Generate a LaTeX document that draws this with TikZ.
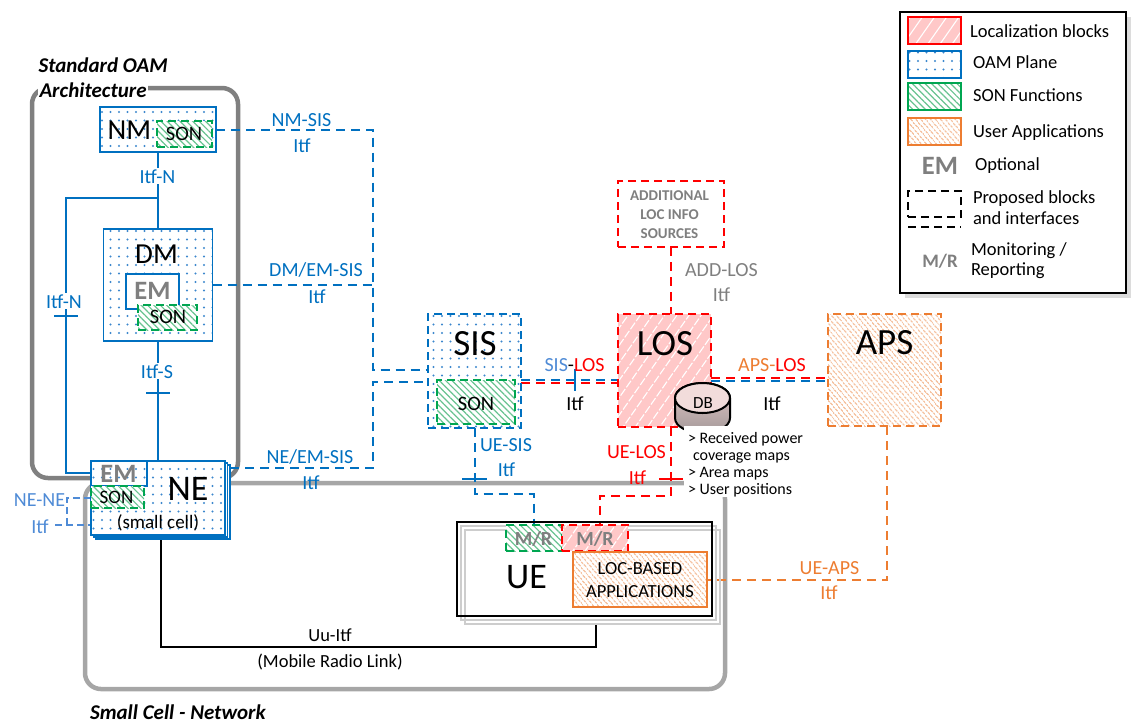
\documentclass[tikz,border=0pt]{standalone}
\usepackage{fontspec}
\setmainfont{Carlito}
\usetikzlibrary{patterns.meta,calc}
\pgfdeclarelayer{frames}
\pgfdeclarelayer{links}
\pgfsetlayers{frames,links,main}

\definecolor{oamblue}{RGB}{0,112,192}
\definecolor{softblue}{RGB}{79,139,214}
\definecolor{songreen}{RGB}{0,166,81}
\definecolor{locred}{RGB}{255,0,0}
\definecolor{apporange}{RGB}{237,125,49}
\definecolor{optgray}{RGB}{127,127,127}
\definecolor{locpink}{RGB}{255,200,200}
\definecolor{oamframe}{RGB}{128,128,128}
\definecolor{netframe}{RGB}{166,166,166}
\definecolor{dotblue}{RGB}{60,135,205}
\definecolor{hatchgreen}{RGB}{105,195,145}
\definecolor{hatchorange}{RGB}{241,165,115}
\definecolor{dbtop}{RGB}{242,220,219}
\definecolor{dbbody}{RGB}{226,196,196}
\definecolor{dbshade}{RGB}{165,155,155}
\definecolor{shadowgray}{RGB}{205,205,205}

\newcommand{\fsz}[1]{\fontsize{#1}{#1}\selectfont}

\tikzset{
  every node/.style={inner sep=0pt, outer sep=0pt},
  oamfill/.style={preaction={fill=white}, pattern={Dots[distance=8.5pt,radius=1.05pt]}, pattern color=dotblue},
  sonfill/.style={preaction={fill=white}, pattern={Lines[angle=-45,distance=4.5pt,line width=1.2pt]}, pattern color=hatchgreen},
  locfill/.style={preaction={fill=locpink}, pattern={Lines[angle=55,distance=10pt,line width=1.1pt]}, pattern color=white},
  appfill/.style={preaction={fill=white}, pattern={Lines[angle=-50,distance=4pt,line width=1.1pt]}, pattern color=hatchorange},
  propdash/.style={dash pattern=on 8pt off 5pt},
  oambox/.style={draw=oamblue, line width=1.8pt, oamfill},
  sisbox/.style={oambox, propdash},
  sonbox/.style={draw=songreen, line width=1.8pt, propdash, sonfill},
  locbox/.style={draw=locred, line width=1.8pt, propdash, locfill},
  apsbox/.style={draw=apporange, line width=1.8pt, propdash, appfill},
  appbox/.style={draw=apporange, line width=1.8pt, appfill},
  oamlink/.style={draw=oamblue, line width=2pt},
  plink/.style={oamlink, dash pattern=on 9pt off 6pt},
  rlink/.style={draw=locred, line width=2pt, dash pattern=on 9pt off 6pt},
  olink/.style={draw=apporange, line width=2pt, dash pattern=on 9pt off 6pt},
  nenelink/.style={draw=softblue, line width=1.7pt, dash pattern=on 7pt off 4pt},
  lbl/.style={font=\fsz{20}, text=oamblue, anchor=base},
  bigtxt/.style={font=\fsz{37}, anchor=base},
  midtxt/.style={font=\fsz{29}, anchor=base},
  sontxt/.style={font=\fsz{20.5}, anchor=base},
  opttxt/.style={font=\bfseries\fsz{26.5}, text=optgray, anchor=base},
  mrtxt/.style={font=\bfseries\fsz{20}, text=optgray, anchor=base},
  legtxt/.style={font=\fsz{18.5}, anchor=base west},
  dbtxt/.style={font=\fsz{16}, anchor=base west},
  frametitle/.style={font=\bfseries\itshape\fsz{21}, anchor=base west},
}

\begin{document}
\begin{tikzpicture}[x=1pt,y=-1pt]
\useasboundingbox (0,0) rectangle (1131,724);

% ---------- blocks ----------
% Network manager
\node[oambox, minimum width=116, minimum height=45] (nm) at (158,129.5) {};
\node[sonbox, minimum width=55, minimum height=26] (nmson) at (184.5,134) {};
\node[midtxt] (nmt) at (129.5,139) {NM};
\node[sontxt] (nmsont) at (184,140) {SON};

% Domain manager
\node[oambox, minimum width=109, minimum height=112] (dm) at (158,285) {};
\node[midtxt] (dmt) at (156.5,263) {DM};
\node[draw=oamblue, line width=1.8pt, fill=white, minimum width=53, minimum height=35] (dmem) at (152.5,291.5) {};
\node[opttxt] (dmemt) at (152.5,299) {EM};
\node[sonbox, minimum width=59, minimum height=25] (dmson) at (167.5,317.5) {};
\node[sontxt] (dmsont) at (168,323) {SON};

% Network element (stacked small cells)
\node[draw=oamblue, line width=1.3pt, fill=white, minimum width=134, minimum height=74] (nesh2) at (163,502) {};
\node[draw=oamblue, line width=1.3pt, fill=white, minimum width=134, minimum height=74] (nesh1) at (160.5,500) {};
\node[oambox, minimum width=134, minimum height=74] (ne) at (158,498) {};
\node[oambox, minimum width=56, minimum height=25] (neem) at (119,473.5) {};
\node[opttxt] (neemt) at (118.5,482) {EM};
\node[sonbox, minimum width=53, minimum height=22] (neson) at (117.5,497) {};
\node[font=\fsz{19}, anchor=base] (nesont) at (116.5,503) {SON};
\node[bigtxt, font=\fsz{36}] (net) at (188,500) {NE};
\node[font=\fsz{19}] (nesc) at (158,523) {(small cell)};

% SIS
\node[sisbox, minimum width=93, minimum height=114] (sis) at (474.5,371) {};
\node[bigtxt] (sist) at (475,355) {SIS};
\node[sonbox, minimum width=78, minimum height=44] (sisson) at (476,402) {};
\node[sontxt] (sissont) at (476,410) {SON};

% LOS
\node[locbox, minimum width=93, minimum height=113] (los) at (664.5,370.5) {};
\node[bigtxt] (lost) at (665,355) {LOS};

% APS
\node[apsbox, minimum width=113, minimum height=112] (aps) at (884.5,370) {};
\node[bigtxt] (apst) at (884.5,354) {APS};

% Additional sources
\node[draw=locred, line width=1.8pt, propdash, fill=white, minimum width=106, minimum height=66] (add) at (671,214) {};
\node[font=\bfseries\fsz{15}, text=optgray, anchor=base] (add1) at (669.5,200) {ADDITIONAL};
\node[font=\bfseries\fsz{15}, text=optgray, anchor=base] (add2) at (669.5,219) {LOC INFO};
\node[font=\bfseries\fsz{15}, text=optgray, anchor=base] (add3) at (669.5,238) {SOURCES};

% UE (stacked terminals)
\node[draw=shadowgray, line width=1.3pt, minimum width=255, minimum height=94] (uesh2) at (592.5,577) {};
\node[draw=shadowgray, line width=1.3pt, minimum width=255, minimum height=94] (uesh1) at (588.5,573) {};
\node[draw=black, line width=1.8pt, minimum width=255, minimum height=94] (ue) at (584.5,569) {};
\node[bigtxt, font=\fsz{36}] (uet) at (526.5,588) {UE};
\node[sonbox, minimum width=56, minimum height=26] (mrg) at (534,538) {};
\node[mrtxt] (mrgt) at (533.5,545) {M/R};
\node[locbox, minimum width=66, minimum height=26] (mrr) at (595,538) {};
\node[mrtxt] (mrrt) at (595,545) {M/R};
\node[appbox, minimum width=134, minimum height=55] (app) at (640,579.5) {};
\node[font=\fsz{18.5}, anchor=base] (app1) at (640,574) {LOC-BASED};
\node[font=\fsz{18.5}, anchor=base] (app2) at (640,597) {APPLICATIONS};

% Database
\path[draw=black, line width=2pt, top color=dbbody, bottom color=dbshade]
  (675,398) -- (675,418) arc[start angle=180, end angle=0, x radius=27.5, y radius=15]
  -- (730,398) arc[start angle=0, end angle=-180, x radius=27.5, y radius=15] -- cycle;
\path[draw=black, line width=2pt, fill=dbtop] (702.5,398) ellipse [x radius=27.5, y radius=15];
\node[font=\fsz{17}, anchor=base] (db) at (703,408) {DB};
\fill[white] (684,426) rectangle (812,497);
\node[dbtxt] (db1) at (688,443) {> Received power};
\node[dbtxt] (db2) at (693,460) {coverage maps};
\node[dbtxt] (db3) at (688,477) {> Area maps};
\node[dbtxt] (db4) at (688,494) {> User positions};

% ---------- coordinates for the interface routes ----------
\coordinate (jn) at (158,198);
\coordinate (nl) at (66,473);
\coordinate (busA) at (373,370);
\coordinate (busB) at (373,382);
\coordinate (neR) at ($(ne.north east)+(5,7)$);
\coordinate (nn1) at (67,498);
\coordinate (nn2) at (67,525);
\coordinate (nn3) at (55,525);
\coordinate (slB) at (0,380);
\coordinate (slR) at (0,383);
\coordinate (alR) at (0,378);
\coordinate (alB) at (0,381);
\coordinate (us) at (534,494);
\coordinate (lu) at (600,496);
\coordinate (ua) at (887,579.5);
\coordinate (uu1) at (161,647);
\coordinate (uu2) at (596,647);

% ---------- frames ----------
\begin{pgfonlayer}{frames}
\draw[oamframe, line width=4.5pt, rounded corners=16pt] (32,88) rectangle (238,478);
\draw[netframe, line width=4.5pt, rounded corners=16pt] (85,483) rectangle (725,689);
\end{pgfonlayer}
\node[frametitle, fill=white, inner sep=1.5pt] (oamtitle1) at (37,72) {Standard OAM};
\node[frametitle, fill=white, inner sep=1.5pt] (oamtitle2) at (38,97) {Architecture};
\node[frametitle] (nettitle) at (90,719) {Small Cell - Network};

% ---------- interfaces ----------
\begin{pgfonlayer}{links}
% standard OAM interfaces
\draw[oamlink] (nm.south) -- (dm.north);
\draw[oamlink] (jn) -| (nl) -- (nl -| ne.west);
\draw[oamlink] (dm.south) -- (ne.north);
\draw[oamlink] (54,316) -- (78,316);
\draw[oamlink] (146,393) -- (170,393);
% proposed interfaces towards the SIS
\draw[plink] (nm.east) -| (busA) -- (busA -| sis.west);
\draw[plink] (dm.east) -- (dm.east -| busA);
\draw[plink] (neR) -| (busB) -- (busB -| sis.west);
% NE-NE
\draw[nenelink] (ne.west) -- (nn1) -- (nn2);
\draw[nenelink] (nn3) -- (nn3 -| ne.west);
% SIS-LOS
\draw[plink] (sis.east |- slB) -- (los.west |- slB);
\draw[rlink] (sis.east |- slR) -- (los.west |- slR);
\draw[oamlink] (575,369) -- (575,391);
% APS-LOS
\draw[rlink] (los.east |- alR) -- (aps.west |- alR);
\draw[plink] (los.east |- alB) -- (aps.west |- alB);
% ADD-LOS
\draw[rlink] (add.south) -- (add.south |- los.north);
% UE-SIS
\draw[plink] (sis.south) |- (us) -- (mrg.north);
\draw[oamlink] (462,479) -- (487,479);
% UE-LOS
\draw[rlink] (add.south |- los.south) |- (lu) -- (lu |- mrr.north);
\draw[locred, line width=2pt] (659,479) -- (683,479);
% UE-APS
\draw[olink] (aps.south -| ua) -- (ua) -- (app.east);
% radio link
\draw[black, line width=1.6pt] (nesh2.south -| uu1) -- (uu1) -- (uu2) -- (uu2 |- uesh2.south);
\end{pgfonlayer}

% ---------- interface labels ----------
\node[lbl, fill=white, inner sep=1pt] (litfn) at (157.5,183) {Itf-N};
\node[lbl, fill=white, inner sep=1pt] (litfnl) at (64,308) {Itf-N};
\node[lbl, fill=white, inner sep=1pt] (litfs) at (157,378) {Itf-S};
\node[lbl] (lnm1) at (301.5,126) {NM-SIS};
\node[lbl] (lnm2) at (302,152) {Itf};
\node[lbl] (ldm1) at (316,276) {DM/EM-SIS};
\node[lbl] (ldm2) at (317,303) {Itf};
\node[lbl] (lne1) at (310,463) {NE/EM-SIS};
\node[lbl] (lne2) at (311,489) {Itf};
\node[lbl, text=softblue] (lnn1) at (39.5,506) {NE-NE};
\node[lbl, text=softblue] (lnn2) at (40,533) {Itf};
\node[lbl, text=black] (lsl1) at (574.5,371) {{\color{softblue}SIS}-{\color{locred}LOS}};
\node[lbl, text=black] (lsl2) at (575,410) {Itf};
\node[lbl, text=black] (lal1) at (772,371) {{\color{apporange}APS-}{\color{locred}LOS}};
\node[lbl, text=black] (lal2) at (772,410) {Itf};
\node[lbl] (lus1) at (506,451) {UE-SIS};
\node[lbl] (lus2) at (506.5,476) {Itf};
\node[lbl, text=locred] (lul1) at (636.5,458) {UE-LOS};
\node[lbl, text=locred] (lul2) at (637.5,484) {Itf};
\node[lbl, text=apporange] (lua1) at (829.5,574) {UE-APS};
\node[lbl, text=apporange] (lua2) at (829,599) {Itf};
\node[lbl, text=optgray] (lad1) at (721.5,276) {ADD-LOS};
\node[lbl, text=optgray] (lad2) at (721.5,301) {Itf};
\node[font=\fsz{18.5}, anchor=base] (luu1) at (330,641) {Uu-Itf};
\node[font=\fsz{18.5}, anchor=base] (luu2) at (330,667) {(Mobile Radio Link)};

% ---------- legend ----------
\fill[shadowgray!70] (905,17) rectangle (1131,298);
\node[draw=black, line width=1.6pt, fill=white, minimum width=226, minimum height=281] (legend) at (1013,152.5) {};
\node[draw=locred, line width=1.8pt, locfill, minimum width=53, minimum height=27] (lg1) at (934.5,30.5) {};
\node[legtxt] (lg1t) at (970,37) {Localization blocks};
\node[oambox, minimum width=53, minimum height=27] (lg2) at (934.5,64.5) {};
\node[legtxt] (lg2t) at (973,68) {OAM Plane};
\node[draw=songreen, line width=1.8pt, sonfill, minimum width=53, minimum height=27] (lg3) at (934.5,96.5) {};
\node[legtxt] (lg3t) at (973,101) {SON Functions};
\node[appbox, minimum width=53, minimum height=27] (lg4) at (934.5,131.5) {};
\node[legtxt] (lg4t) at (973,137) {User Applications};
\node[opttxt] (lg5) at (940,174) {EM};
\node[legtxt] (lg5t) at (975,170) {Optional};
\node[draw=black, line width=1.5pt, propdash, minimum width=53, minimum height=26] (lg6) at (934.5,204) {};
\draw[black, line width=1.5pt, propdash] ($(lg6.south west)+(0,10)$) -- ($(lg6.south east)+(0,10)$);
\node[legtxt] (lg6t) at (973,203) {Proposed blocks};
\node[legtxt] (lg6u) at (973,224) {and interfaces};
\node[mrtxt, font=\bfseries\fsz{19}] (lg7) at (940,267) {M/R};
\node[legtxt] (lg7t) at (971,255) {Monitoring /};
\node[legtxt] (lg7u) at (971,275) {Reporting};

\end{tikzpicture}
\end{document}
